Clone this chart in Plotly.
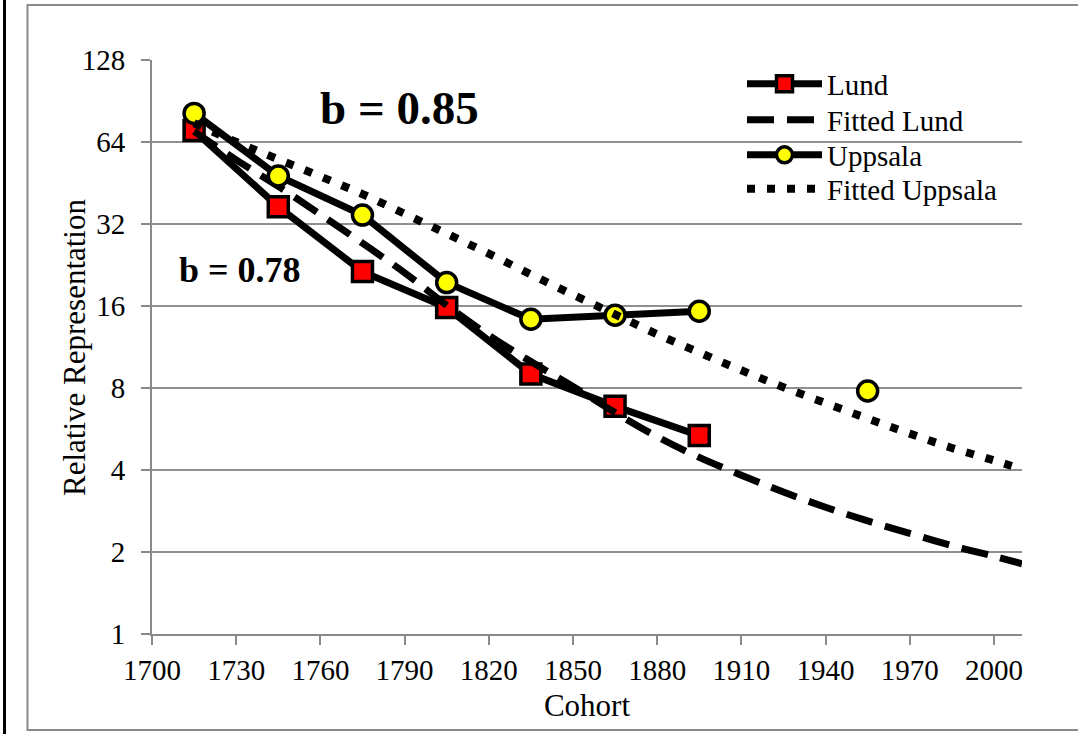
import plotly.graph_objects as go

# ---- data ----
cohorts = [1715, 1745, 1775, 1805, 1835, 1865, 1895, 1925, 1955]
lund = [70.5, 37.0, 21.4, 15.8, 9.0, 6.85, 5.35, None, None]
uppsala = [81.5, 48.0, 34.5, 19.5, 14.3, 14.8, 15.3, None, 7.8]

fit_years = [1715, 1730, 1745, 1760, 1775, 1790, 1805, 1820, 1835, 1850, 1865,
             1880, 1895, 1910, 1925, 1940, 1955, 1970, 1985, 2000, 2010]
fitted_lund = [70, 55, 44, 34.7, 27.2, 21.2, 16.1, 12.5, 10.0, 8.1, 6.5,
               5.3, 4.45, 3.83, 3.32, 2.92, 2.60, 2.34, 2.11, 1.93, 1.81]
fitted_uppsala = [75, 64, 55.3, 47.8, 41.2, 34.9, 29.5, 24.9, 20.9, 17.6, 14.9,
                  12.6, 10.8, 9.29, 8.05, 7.04, 6.18, 5.44, 4.82, 4.34, 4.02]

x_ticks = [1700, 1730, 1760, 1790, 1820, 1850, 1880, 1910, 1940, 1970, 2000]
y_ticks = [1, 2, 4, 8, 16, 32, 64, 128]

FONT = "Liberation Serif"

fig = go.Figure()
fig.add_trace(go.Scatter(
    x=cohorts, y=lund, name="Lund", mode="lines+markers",
    line=dict(color="black", width=7),
    marker=dict(symbol="square", size=20, color="#FF0000",
                line=dict(color="black", width=3.5)),
    connectgaps=False, legend="legend"))
fig.add_trace(go.Scatter(
    x=fit_years, y=fitted_lund, name="Fitted Lund", mode="lines",
    line=dict(color="black", width=7, dash="27px,13px", shape="spline"),
    legend="legend2"))
fig.add_trace(go.Scatter(
    x=cohorts, y=uppsala, name="Uppsala", mode="lines+markers",
    line=dict(color="black", width=7),
    marker=dict(symbol="circle", size=20, color="#FFFF00",
                line=dict(color="black", width=3.5)),
    connectgaps=False, legend="legend3"))
fig.add_trace(go.Scatter(
    x=fit_years, y=fitted_uppsala, name="Fitted Uppsala", mode="lines",
    line=dict(color="black", width=8, dash="8px,12px", shape="spline"),
    legend="legend4"))

W, H = 1078, 734
L, R, T, B = 152, 1022, 60, 634

def px(xp):
    return (xp - L) / (R - L)

def py(yp):
    return (B - yp) / (B - T)

shapes = [
    dict(type="rect", xref="paper", yref="paper",
         x0=px(27.5), x1=px(1082), y0=py(730), y1=py(5),
         line=dict(color="#8a8a8a", width=2), fillcolor="rgba(0,0,0,0)", layer="below"),
    dict(type="line", xref="paper", yref="paper",
         x0=px(4.5), x1=px(4.5), y0=py(736), y1=py(-2),
         line=dict(color="black", width=3)),
]

def leg(row_y):
    return dict(x=px(742), y=py(row_y), xanchor="left", yanchor="middle",
                bgcolor="rgba(0,0,0,0)", font=dict(family=FONT, size=29),
                itemwidth=75)

fig.update_layout(
    width=W, height=H,
    margin=dict(l=L, r=W - R, t=T, b=H - B, pad=0),
    paper_bgcolor="white", plot_bgcolor="white",
    font=dict(family=FONT, color="black", size=29),
    showlegend=True,
    legend=leg(84), legend2=leg(120), legend3=leg(155), legend4=leg(189),
    shapes=shapes,
    annotations=[
        dict(x=px(399), y=py(108), xref="paper", yref="paper", text="<b>b = 0.85</b>",
             showarrow=False, font=dict(family=FONT, size=47, color="black"),
             xanchor="center", yanchor="middle"),
        dict(x=px(240), y=py(270), xref="paper", yref="paper", text="<b>b = 0.78</b>",
             showarrow=False, font=dict(family=FONT, size=36, color="black"),
             xanchor="center", yanchor="middle"),
        dict(x=px(74), y=py(348), xref="paper", yref="paper", text="Relative Representation",
             showarrow=False, textangle=-90, font=dict(family=FONT, size=31, color="black"),
             xanchor="center", yanchor="middle"),
    ],
)

fig.update_xaxes(
    range=[1700, 2010], tickvals=x_ticks, ticktext=[str(v) for v in x_ticks],
    showgrid=False, zeroline=False,
    showline=True, linecolor="#8a8a8a", linewidth=2,
    ticks="outside", ticklen=9, tickcolor="#8a8a8a", tickwidth=2,
    tickfont=dict(family=FONT, size=29),
    title=dict(text="Cohort", font=dict(family=FONT, size=31), standoff=10),
)
fig.update_yaxes(
    type="log", range=[0, 2.10721], tickvals=y_ticks, ticktext=[str(v) for v in y_ticks],
    showgrid=True, gridcolor="#8f8f8f", gridwidth=2, zeroline=False,
    showline=True, linecolor="#8a8a8a", linewidth=2,
    ticks="outside", ticklen=9, tickcolor="#8a8a8a", tickwidth=2,
    tickfont=dict(family=FONT, size=29), ticklabelstandoff=10,
)

fig.write_html("out.html")
